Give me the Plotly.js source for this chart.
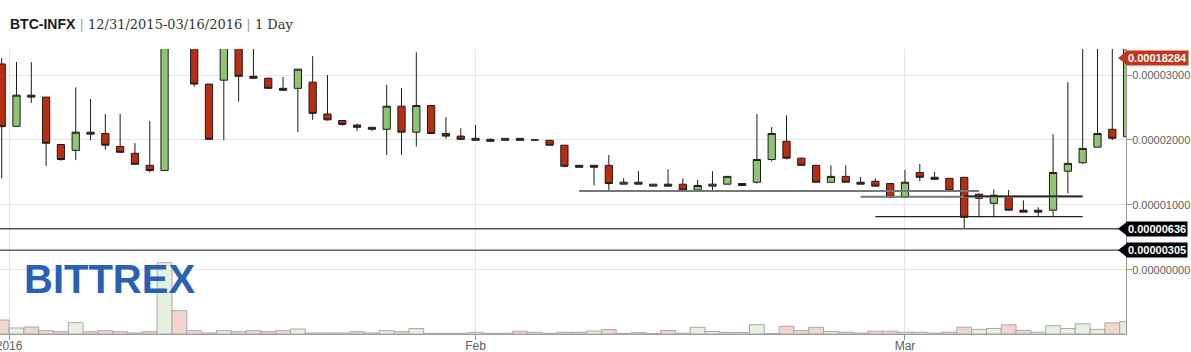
<!DOCTYPE html>
<html>
<head>
<meta charset="utf-8">
<script src="https://cdn.plot.ly/plotly-3.0.1.min.js"></script>
<style>html,body{margin:0;padding:0;background:#fff;}#chart{width:1191px;height:352px;}</style>
</head>
<body>
<div id="chart"></div>
<script>
// ---- data (prices in BTC, volume in relative units) ----
const dates = [
 '2015-12-31',
 '2016-01-01','2016-01-02','2016-01-03','2016-01-04','2016-01-05','2016-01-06','2016-01-07','2016-01-08','2016-01-09','2016-01-10',
 '2016-01-11','2016-01-12','2016-01-13','2016-01-14','2016-01-15','2016-01-16','2016-01-17','2016-01-18','2016-01-19','2016-01-20',
 '2016-01-21','2016-01-22','2016-01-23','2016-01-24','2016-01-25','2016-01-26','2016-01-27','2016-01-28','2016-01-29','2016-01-30','2016-01-31',
 '2016-02-01','2016-02-02','2016-02-03','2016-02-04','2016-02-05','2016-02-06','2016-02-07','2016-02-08','2016-02-09','2016-02-10',
 '2016-02-11','2016-02-12','2016-02-13','2016-02-14','2016-02-15','2016-02-16','2016-02-17','2016-02-18','2016-02-19','2016-02-20',
 '2016-02-21','2016-02-22','2016-02-23','2016-02-24','2016-02-25','2016-02-26','2016-02-27','2016-02-28','2016-02-29',
 '2016-03-01','2016-03-02','2016-03-03','2016-03-04','2016-03-05','2016-03-06','2016-03-07','2016-03-08','2016-03-09','2016-03-10',
 '2016-03-11','2016-03-12','2016-03-13','2016-03-14','2016-03-15','2016-03-16'
];
const openP = [
 31.7e-6,
 22.1e-6,26.9e-6,26.6e-6,19.3e-6,18.4e-6,21.2e-6,21.0e-6,19.0e-6,17.95e-6,16.1e-6,
 15.3e-6,40.0e-6,37.0e-6,28.6e-6,29.2e-6,36.0e-6,29.8e-6,29.5e-6,27.95e-6,27.95e-6,
 28.9e-6,24.0e-6,23.0e-6,22.3e-6,21.95e-6,21.65e-6,25.2e-6,21.2e-6,25.3e-6,21.0e-6,20.6e-6,
 19.95e-6,20.1e-6,19.95e-6,20.25e-6,20.0e-6,19.95e-6,19.2e-6,16.1e-6,16.1e-6,16.1e-6,
 13.2e-6,13.5e-6,12.9e-6,13.2e-6,13.2e-6,12.3e-6,12.9e-6,13.2e-6,13.0e-6,13.5e-6,
 17.0e-6,19.8e-6,17.2e-6,16.1e-6,13.5e-6,14.4e-6,13.5e-6,13.65e-6,13.3e-6,
 11.2e-6,15.0e-6,14.26e-6,14.1e-6,14.26e-6,11.65e-6,10.26e-6,11.3e-6,9.2e-6,9.2e-6,
 9.2e-6,15.2e-6,16.5e-6,18.9e-6,21.65e-6,20.5e-6
];
const highP = [
 32.6e-6,
 32.0e-6,32.0e-6,26.6e-6,19.3e-6,28.1e-6,26.3e-6,24.0e-6,24.0e-6,19.5e-6,22.9e-6,
 42.0e-6,52.0e-6,38.0e-6,28.6e-6,38.0e-6,37.0e-6,35.0e-6,29.6e-6,29.7e-6,30.9e-6,
 32.9e-6,30.0e-6,23.0e-6,22.5e-6,21.95e-6,28.5e-6,28.0e-6,33.5e-6,25.3e-6,23.5e-6,21.8e-6,
 22.3e-6,20.25e-6,20.25e-6,20.25e-6,20.0e-6,19.95e-6,19.2e-6,16.1e-6,16.1e-6,17.7e-6,
 14.1e-6,15.2e-6,13.2e-6,15.5e-6,14.1e-6,13.85e-6,15.2e-6,14.4e-6,13.3e-6,24.0e-6,
 22.0e-6,23.8e-6,17.3e-6,16.1e-6,16.1e-6,16.1e-6,14.3e-6,14.1e-6,13.3e-6,
 15.4e-6,16.3e-6,15.1e-6,14.1e-6,14.26e-6,11.8e-6,12.4e-6,12.3e-6,10.7e-6,9.65e-6,
 20.9e-6,28.9e-6,45.0e-6,60.0e-6,90.0e-6,200.0e-6
];
const lowP = [
 14.1e-6,
 22.0e-6,25.7e-6,16.0e-6,16.8e-6,16.9e-6,20.0e-6,18.5e-6,18.1e-6,16.2e-6,15.0e-6,
 15.2e-6,36.0e-6,28.2e-6,20.0e-6,20.0e-6,25.9e-6,29.4e-6,27.9e-6,27.6e-6,21.2e-6,
 23.1e-6,23.0e-6,22.2e-6,21.4e-6,21.4e-6,17.7e-6,17.7e-6,19.0e-6,21.0e-6,20.2e-6,19.95e-6,
 19.95e-6,19.8e-6,19.95e-6,19.95e-6,20.0e-6,19.2e-6,15.8e-6,15.8e-6,13.0e-6,12.2e-6,
 13.2e-6,13.2e-6,12.9e-6,12.9e-6,12.3e-6,12.3e-6,12.3e-6,13.2e-6,13.0e-6,13.3e-6,
 16.7e-6,17.0e-6,16.1e-6,13.5e-6,13.5e-6,13.5e-6,13.2e-6,12.9e-6,11.2e-6,
 11.2e-6,13.65e-6,13.95e-6,12.05e-6,6.36e-6,8.1e-6,8.1e-6,9.2e-6,8.9e-6,8.26e-6,
 8.26e-6,11.8e-6,16.3e-6,18.9e-6,20.0e-6,20.5e-6
];
const closeP = [
 22.05e-6,
 26.9e-6,26.6e-6,19.5e-6,17.0e-6,21.2e-6,20.9e-6,19.2e-6,18.1e-6,16.26e-6,15.3e-6,
 40.0e-6,37.0e-6,28.6e-6,20.1e-6,36.0e-6,29.8e-6,29.5e-6,27.95e-6,27.65e-6,30.9e-6,
 24.1e-6,23.1e-6,22.4e-6,21.95e-6,21.65e-6,25.2e-6,21.2e-6,25.3e-6,21.0e-6,20.6e-6,20.1e-6,
 20.25e-6,19.8e-6,20.25e-6,19.95e-6,20.0e-6,19.2e-6,15.95e-6,15.8e-6,15.8e-6,13.3e-6,
 13.5e-6,13.2e-6,13.2e-6,12.9e-6,12.3e-6,13.0e-6,13.2e-6,14.4e-6,13.3e-6,17.0e-6,
 21.0e-6,17.2e-6,16.1e-6,13.5e-6,14.4e-6,13.5e-6,13.2e-6,12.9e-6,11.2e-6,
 13.5e-6,14.26e-6,13.95e-6,12.2e-6,8.1e-6,11.03e-6,11.5e-6,9.2e-6,8.9e-6,8.9e-6,
 15.0e-6,16.4e-6,18.7e-6,21.0e-6,20.26e-6,182.84e-6
];
const volume = [
 14,
 6,7,3.3,2.3,11.3,2.3,3.3,2.3,1,2.3,
 71.3,23.3,3.3,1,3.3,2.3,3.3,2.3,3.3,5,
 1,1,1,2.3,1,3.3,2.3,5.5,0.7,0.7,0.7,
 1.7,0.7,0.7,2.7,1.7,0.7,1.7,1.7,2.9,4.4,
 0.5,1.4,0.5,3.5,0.8,6.7,2.5,1.5,1.5,9.3,
 0.5,7.7,3.4,6.7,2.5,1.8,0.9,2.8,2.8,
 1.8,1.8,0.9,1.8,6.8,4.6,5.5,9.2,3.7,1.8,
 8.3,5.5,10.2,4.6,11.1,12.3
];
// horizontal levels with right-edge tags
const levelValues = [6.36e-6, 3.05e-6];
const levelLabels = ['0.00000636', '0.00000305'];
const lastLabel = '0.00018284';
// drawn support lines
const supportStart = ['2016-02-08', '2016-02-27', '2016-03-05', '2016-02-28'];
const supportEnd   = ['2016-03-06', '2016-03-13', '2016-03-13', '2016-03-13'];
const supportValue = [12.15e-6, 11.28e-6, 11.35e-6, 8.2e-6];
const tickDates = ['2015-12-31 12:00', '2016-02-01', '2016-03-01'];
const tickLabels = ['2016', 'Feb', 'Mar'];
const priceTicks = [0, 1e-5, 2e-5, 3e-5];

// ---- styling / layout ----
const RED = '#bb2d10', GREEN = '#8ec472';
const VRED = '#f2d5cf', VGREEN = '#e5f1de';
const PLOT_W = 1126, PLOT_H = 285, PLOT_TOP = 49;
const priceRange = [-9.85e-6, 34.0e-6];

const volColors = closeP.map((c, i) => (i > 0 && c >= closeP[i - 1]) ? VGREEN : VRED);

const volTrace = {
  type: 'bar', x: dates, y: volume, yaxis: 'y', xaxis: 'x',
  width: 86400000,
  marker: {color: volColors, line: {color: '#a8a8a8', width: 1}},
  hoverinfo: 'skip'
};
const candleTrace = {
  type: 'candlestick', x: dates, open: openP, high: highP, low: lowP, close: closeP,
  xaxis: 'x', yaxis: 'y2',
  increasing: {fillcolor: GREEN, line: {color: '#1c1c1c', width: 1}},
  decreasing: {fillcolor: RED, line: {color: '#1c1c1c', width: 1}},
  whiskerwidth: 0,
  hoverinfo: 'skip'
};

function pyOf(v) { return (v - priceRange[0]) / (priceRange[1] - priceRange[0]); }
function pxX(px) { return px / PLOT_W; }

const shapes = [];
const annotations = [];

levelValues.forEach((v, i) => {
  shapes.push({type: 'line', xref: 'paper', yref: 'y2', x0: 0, x1: 1, y0: v, y1: v,
    line: {color: i === 0 ? '#555' : '#111', width: i === 0 ? 1.5 : 1}});
});
const supportColors = ['#777', '#777', '#111', '#222'];
const supportWidths = [2, 2, 1.2, 1.2];
supportStart.forEach((s, i) => {
  shapes.push({type: 'line', xref: 'x', yref: 'y2', x0: s, x1: supportEnd[i],
    y0: supportValue[i], y1: supportValue[i],
    line: {color: supportColors[i], width: supportWidths[i]}});
});

function tag(label, py, color) {
  const h = 7 / PLOT_H;
  shapes.push({type: 'path', xref: 'paper', yref: 'paper',
    path: `M ${pxX(1118)},${py} L ${pxX(1127)},${py + h} L ${pxX(1127)},${py - h} Z`,
    fillcolor: color, line: {width: 0}});
  annotations.push({xref: 'paper', yref: 'paper', x: pxX(1126), y: py, xanchor: 'left', yanchor: 'middle',
    text: '<b>' + label + '</b>', showarrow: false, bgcolor: color, borderpad: 1,
    font: {family: 'Liberation Sans, Arial, sans-serif', size: 11, color: '#fff'}});
}
const lastPy = Math.min(pyOf(closeP[closeP.length - 1]), (PLOT_H - 9) / PLOT_H);
tag(lastLabel, lastPy, '#c2351a');
levelValues.forEach((v, i) => tag(levelLabels[i], pyOf(v), '#000'));

annotations.push({xref: 'paper', yref: 'paper', x: pxX(22), y: (334 - 278.5) / PLOT_H,
  xanchor: 'left', yanchor: 'middle', showarrow: false,
  text: '<b>BITTREX</b>',
  font: {family: 'Liberation Sans, Arial, sans-serif', size: 40, color: '#2a5fb6'}});

const titleText =
  "<span style=\"font-family:'Liberation Sans',Arial,sans-serif;font-weight:bold;font-size:14px;fill:#1a1a1a\">BTC-INFX</span>" +
  "<span style=\"fill:#999\"> | </span>12/31/2015-03/16/2016<span style=\"fill:#999\"> | </span>1 Day";

const axFont = {family: 'Liberation Sans, Arial, sans-serif', size: 11, color: '#606060'};

const layout = {
  width: 1191, height: 352,
  margin: {l: 0, r: 65, t: PLOT_TOP, b: 18, pad: 0},
  paper_bgcolor: '#fff', plot_bgcolor: '#fff',
  showlegend: false,
  bargap: 0,
  title: {text: titleText, xref: 'container', yref: 'container', x: 10 / 1191, xanchor: 'left',
    y: 1 - 24 / 352, yanchor: 'middle',
    font: {family: 'DejaVu Serif, Georgia, serif', size: 13, color: '#333'}},
  xaxis: {type: 'date', range: ['2015-12-30 21:16', '2016-03-15 22:12'],
    tickmode: 'array', tickvals: tickDates, ticktext: tickLabels,
    showgrid: true, gridcolor: '#e6e6e6', gridwidth: 1,
    ticks: 'outside', ticklen: 5, tickcolor: '#999',
    ticklabelstandoff: -4, ticklabeloverflow: 'allow',
    showline: true, linecolor: '#a0a0a0', linewidth: 1,
    zeroline: false, fixedrange: true,
    tickfont: {family: 'Liberation Sans, Arial, sans-serif', size: 12, color: '#606060'},
    rangeslider: {visible: false}},
  yaxis: {domain: [0, 1], range: [0, PLOT_H], visible: false, fixedrange: true, showgrid: false, zeroline: false},
  yaxis2: {overlaying: 'y', side: 'right', anchor: 'x', range: priceRange,
    tickmode: 'array', tickvals: priceTicks, tickformat: '.8f',
    showgrid: true, gridcolor: '#e6e6e6', gridwidth: 1,
    ticks: 'outside', ticklen: 5, tickcolor: '#999',
    ticklabelstandoff: -2, ticklabeloverflow: 'allow',
    showline: true, linecolor: '#999', linewidth: 1,
    zeroline: false, fixedrange: true, tickfont: axFont},
  shapes: shapes,
  annotations: annotations
};

Plotly.newPlot('chart', [volTrace, candleTrace], layout, {displayModeBar: false, staticPlot: true});
</script>
</body>
</html>
